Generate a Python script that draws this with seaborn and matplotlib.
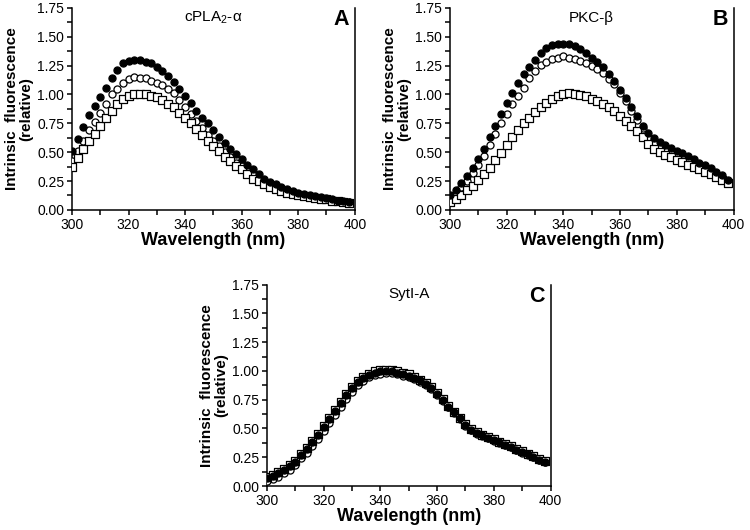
"""Intrinsic fluorescence emission spectra of three C2 domains (panels A-C)."""
import matplotlib

matplotlib.use("Agg")
import matplotlib.pyplot as plt
from matplotlib.ticker import MultipleLocator
import pandas as pd
import seaborn as sns

sns.set_style("ticks")
plt.rcParams["font.family"] = ["Liberation Sans", "DejaVu Sans"]
plt.rcParams["mathtext.fontset"] = "custom"
plt.rcParams["mathtext.rm"] = "Liberation Sans"
for key in ("text.color", "axes.labelcolor", "xtick.color", "ytick.color"):
    plt.rcParams[key] = "black"

wavelength = list(range(300, 400, 2))

# panel A: cPLA2-alpha
a_filled = [0.51, 0.61, 0.72, 0.82, 0.90, 0.98, 1.06, 1.14, 1.21, 1.27,
            1.29, 1.30, 1.30, 1.28, 1.27, 1.24, 1.20, 1.16, 1.11, 1.05,
            0.99, 0.93, 0.86, 0.80, 0.75, 0.69, 0.63, 0.58, 0.53, 0.48,
            0.44, 0.39, 0.35, 0.31, 0.27, 0.24, 0.22, 0.20, 0.18, 0.165,
            0.15, 0.14, 0.13, 0.12, 0.11, 0.10, 0.09, 0.08, 0.075, 0.07]
a_open = [0.42, 0.51, 0.60, 0.69, 0.76, 0.84, 0.92, 1.00, 1.05, 1.10,
          1.13, 1.15, 1.14, 1.14, 1.12, 1.10, 1.08, 1.05, 1.01, 0.95,
          0.89, 0.83, 0.77, 0.71, 0.65, 0.60, 0.55, 0.50, 0.46, 0.41,
          0.38, 0.34, 0.30, 0.27, 0.24, 0.21, 0.19, 0.175, 0.16, 0.15,
          0.14, 0.13, 0.12, 0.11, 0.10, 0.095, 0.085, 0.08, 0.07, 0.065]
a_square = [0.37, 0.45, 0.53, 0.60, 0.66, 0.73, 0.80, 0.86, 0.92, 0.96,
            0.99, 1.00, 1.00, 1.00, 0.99, 0.98, 0.95, 0.92, 0.89, 0.84,
            0.80, 0.75, 0.70, 0.65, 0.60, 0.55, 0.51, 0.46, 0.42, 0.38,
            0.35, 0.31, 0.27, 0.25, 0.22, 0.20, 0.18, 0.165, 0.15, 0.14,
            0.13, 0.12, 0.11, 0.10, 0.095, 0.09, 0.08, 0.075, 0.065, 0.06]

# panel B: PKC-beta
b_filled = [0.13, 0.17, 0.23, 0.29, 0.36, 0.44, 0.53, 0.63, 0.73, 0.83,
            0.93, 1.01, 1.10, 1.18, 1.24, 1.30, 1.36, 1.40, 1.43, 1.44,
            1.44, 1.435, 1.42, 1.39, 1.36, 1.32, 1.28, 1.235, 1.18, 1.12,
            1.04, 0.97, 0.89, 0.81, 0.73, 0.67, 0.62, 0.585, 0.56, 0.535,
            0.51, 0.49, 0.465, 0.44, 0.41, 0.385, 0.36, 0.33, 0.30, 0.26]
b_open = [0.12, 0.15, 0.20, 0.25, 0.32, 0.39, 0.47, 0.565, 0.655, 0.75,
          0.835, 0.92, 0.985, 1.06, 1.14, 1.205, 1.255, 1.285, 1.31, 1.32,
          1.33, 1.32, 1.31, 1.29, 1.275, 1.245, 1.22, 1.19, 1.13, 1.09,
          1.01, 0.945, 0.86, 0.78, 0.71, 0.63, 0.58, 0.545, 0.52, 0.495,
          0.47, 0.45, 0.43, 0.41, 0.385, 0.36, 0.335, 0.31, 0.28, 0.245]
b_square = [0.067, 0.096, 0.13, 0.17, 0.21, 0.255, 0.31, 0.365, 0.43, 0.49,
            0.56, 0.63, 0.69, 0.75, 0.80, 0.85, 0.89, 0.93, 0.965, 0.985,
            1.00, 1.01, 1.00, 0.995, 0.985, 0.965, 0.945, 0.92, 0.89, 0.86,
            0.81, 0.77, 0.73, 0.68, 0.63, 0.575, 0.53, 0.50, 0.475, 0.455,
            0.435, 0.415, 0.39, 0.37, 0.35, 0.33, 0.31, 0.285, 0.26, 0.235]

# panel C: SytI-A
c_filled = [0.07, 0.09, 0.11, 0.14, 0.17, 0.21, 0.27, 0.32, 0.38, 0.44,
            0.51, 0.58, 0.65, 0.72, 0.79, 0.85, 0.90, 0.935, 0.965, 0.985,
            0.995, 1.00, 0.995, 0.985, 0.975, 0.96, 0.94, 0.92, 0.89, 0.855,
            0.80, 0.75, 0.69, 0.64, 0.59, 0.53, 0.49, 0.46, 0.44, 0.42,
            0.40, 0.38, 0.36, 0.34, 0.315, 0.295, 0.275, 0.255, 0.23, 0.21]
c_open = [0.04, 0.06, 0.08, 0.11, 0.14, 0.18, 0.24, 0.29, 0.35, 0.41,
          0.48, 0.55, 0.62, 0.69, 0.76, 0.82, 0.88, 0.915, 0.945, 0.965,
          0.975, 0.98, 0.98, 0.97, 0.96, 0.945, 0.93, 0.905, 0.88, 0.845,
          0.79, 0.74, 0.685, 0.635, 0.585, 0.525, 0.485, 0.455, 0.435, 0.415,
          0.395, 0.375, 0.355, 0.335, 0.31, 0.29, 0.27, 0.25, 0.225, 0.205]
c_square = [0.08, 0.10, 0.12, 0.15, 0.18, 0.22, 0.28, 0.33, 0.39, 0.45,
            0.52, 0.59, 0.66, 0.73, 0.80, 0.86, 0.91, 0.945, 0.975, 0.995,
            1.005, 1.01, 1.005, 0.995, 0.985, 0.97, 0.95, 0.925, 0.895, 0.86,
            0.805, 0.755, 0.695, 0.645, 0.595, 0.535, 0.495, 0.465, 0.445, 0.425,
            0.405, 0.385, 0.365, 0.345, 0.32, 0.30, 0.28, 0.26, 0.235, 0.215]

panels = [
    ("A", "cPLA$_2$-α", a_filled, a_open, a_square, [0.096, 0.604, 0.377, 0.381]),
    ("B", "PKC-β", b_filled, b_open, b_square, [0.600, 0.604, 0.378, 0.381]),
    ("C", "SytI-A", c_filled, c_open, c_square, [0.356, 0.083, 0.378, 0.380]),
]

fig = plt.figure(figsize=(7.5, 5.3), dpi=100)

for letter, name, filled, opened, square, rect in panels:
    ax = fig.add_axes(rect)
    df = pd.DataFrame({"nm": wavelength, "filled": filled,
                       "open": opened, "square": square})
    sns.scatterplot(data=df, x="nm", y="open", ax=ax, marker="o", s=26,
                    facecolor="white", edgecolor="black", linewidth=0.9, zorder=3)
    sns.scatterplot(data=df, x="nm", y="square", ax=ax, marker="s", s=26,
                    facecolor="white", edgecolor="black", linewidth=0.9, zorder=4)
    sns.scatterplot(data=df, x="nm", y="filled", ax=ax, marker="o", s=26,
                    facecolor="black", edgecolor="black", linewidth=0.9, zorder=5)

    ax.set_xlim(300, 400)
    ax.set_ylim(0, 1.75)
    ax.xaxis.set_major_locator(MultipleLocator(20))
    ax.xaxis.set_minor_locator(MultipleLocator(10))
    ax.yaxis.set_major_locator(MultipleLocator(0.25))
    ax.yaxis.set_minor_locator(MultipleLocator(0.125))
    ax.yaxis.set_major_formatter(matplotlib.ticker.FormatStrFormatter("%.2f"))
    ax.tick_params(which="both", direction="out", length=3.5, width=1.1,
                   labelsize=10, pad=2)
    ax.tick_params(axis="y", which="both", right=False)
    sns.despine(ax=ax, top=True, right=False)
    for side in ("left", "bottom", "right"):
        ax.spines[side].set_linewidth(1.1)
        ax.spines[side].set_color("black")

    ax.set_xlabel("Wavelength (nm)", fontsize=13, fontweight="bold", labelpad=0)
    ax.set_ylabel("Intrinsic  fluorescence\n(relative)", fontsize=11,
                  fontweight="bold", labelpad=3, linespacing=1.0)
    ax.text(350, 1.665, name, ha="center", va="center", fontsize=11)
    ax.text(398, 1.65, letter, ha="right", va="center", fontsize=15.5,
            fontweight="bold")

fig.savefig("out.png", dpi=100)
plt.close(fig)
